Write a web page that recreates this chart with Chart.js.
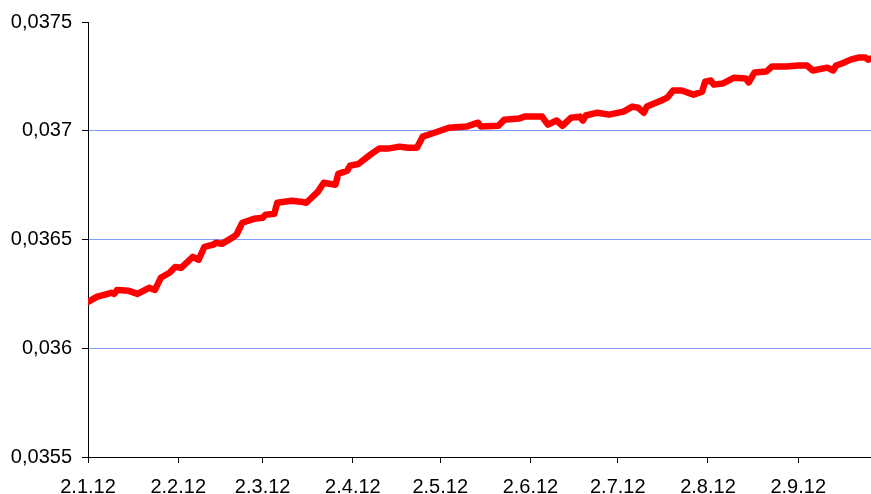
<!DOCTYPE html>
<html>
<head>
<meta charset="utf-8">
<title>Rate 2012</title>
<script src="https://cdn.jsdelivr.net/npm/chart.js@4"></script>
<style>
  html, body { margin: 0; padding: 0; background: #fff; }
  #wrap { width: 871px; height: 494px; }
</style>
</head>
<body>
<div id="wrap"><canvas id="chart" width="871" height="494"></canvas></div>
<script>
// days counted from 2 Jan 2012
const days = [0, 3, 8, 9, 10, 14, 17, 21, 23, 25, 28, 30, 32, 36, 38, 40, 43, 44, 46, 50,
  51, 53, 57, 60, 61, 64, 65, 70, 73, 75, 79, 81, 85, 86, 89, 90, 93, 97, 100, 103,
  107, 110, 113, 115, 119, 124, 130, 134, 135, 141, 143, 148, 150, 156, 158, 161, 163, 166, 169, 170,
  171, 175, 179, 184, 187, 189, 191, 192, 197, 199, 201, 204, 208, 211, 212, 214, 215, 218, 222, 226,
  227, 229, 233, 235, 240, 244, 247, 249, 254, 256, 257, 259, 262, 265, 267, 268, 269];

const rates = [0.036213, 0.036236, 0.036255, 0.03625, 0.036268, 0.036264, 0.03625, 0.036278, 0.036268, 0.036324,
  0.036347, 0.036374, 0.03637, 0.03642, 0.036407, 0.036466, 0.036476, 0.036485, 0.03648, 0.036512,
  0.036522, 0.036577, 0.036595, 0.0366, 0.036614, 0.036618, 0.036669, 0.036678, 0.036674, 0.036669,
  0.03672, 0.036761, 0.036752, 0.036802, 0.036816, 0.036839, 0.036848, 0.03689, 0.036918, 0.036918,
  0.036927, 0.036922, 0.036922, 0.036973, 0.036991, 0.037014, 0.037019, 0.037037, 0.037019, 0.037023,
  0.037051, 0.037056, 0.037065, 0.037065, 0.037028, 0.037047, 0.037023, 0.03706, 0.037065, 0.037047,
  0.03707, 0.037083, 0.037074, 0.037088, 0.037111, 0.037106, 0.037083, 0.037111, 0.037139, 0.037152,
  0.037185, 0.037185, 0.037166, 0.03718, 0.037226, 0.037231, 0.037212, 0.037217, 0.037244, 0.03724,
  0.037222, 0.037268, 0.037272, 0.037295, 0.037295, 0.0373, 0.0373, 0.037277, 0.03729, 0.037277,
  0.0373, 0.037309, 0.037327, 0.037337, 0.037337, 0.037327, 0.037332];

const tickDays = [0, 31, 60, 91, 121, 152, 182, 213, 244];
const tickLabels = ['2.1.12', '2.2.12', '2.3.12', '2.4.12', '2.5.12', '2.6.12', '2.7.12', '2.8.12', '2.9.12'];
const yTicks = [0.0355, 0.036, 0.0365, 0.037, 0.0375];

const points = days.map((d, i) => ({ x: d, y: rates[i] }));
const font = { family: '"Liberation Sans", Arial, sans-serif', size: 20 };

function createRateChart(ctx) {
    try {
        if (typeof Chart === 'undefined') {
            throw new Error('Chart.js is not loaded');
        }
        return new Chart(ctx, {
            type: 'line',
            data: {
                datasets: [{
                    data: points,
                    borderColor: '#ff0000',
                    borderWidth: 6.5,
                    borderJoinStyle: 'round',
                    borderCapStyle: 'round',
                    pointRadius: 0,
                    tension: 0,
                    fill: false
                }]
            },
            options: {
                responsive: false,
                animation: false,
                layout: { padding: { top: 22, right: 0, left: 0, bottom: 0 } },
                plugins: {
                    legend: { display: false },
                    tooltip: { enabled: false }
                },
                scales: {
                    x: {
                        type: 'linear',
                        min: 0,
                        max: 269,
                        afterBuildTicks: (scale) => {
                            scale.ticks = tickDays.map(v => ({ value: v }));
                        },
                        afterFit: (scale) => { scale.height = 37; },
                        border: { color: '#000', width: 1 },
                        grid: {
                            drawOnChartArea: false,
                            tickColor: '#000',
                            tickLength: 6
                        },
                        ticks: {
                            autoSkip: false,
                            maxRotation: 0,
                            padding: 12,
                            color: '#000',
                            font: font,
                            callback: (value) => {
                                const i = tickDays.indexOf(value);
                                return i >= 0 ? tickLabels[i] : '';
                            }
                        }
                    },
                    y: {
                        min: 0.0355,
                        max: 0.0375,
                        afterBuildTicks: (scale) => {
                            scale.ticks = yTicks.map(v => ({ value: v }));
                        },
                        afterFit: (scale) => { scale.width = 88; },
                        border: { color: '#000', width: 1 },
                        grid: {
                            color: (c) => (c.index === 0 || c.index === yTicks.length - 1) ? 'rgba(0,0,0,0)' : '#809fff',
                            tickColor: '#000',
                            tickLength: 6,
                            lineWidth: 1
                        },
                        ticks: {
                            padding: 10,
                            color: '#000',
                            font: font,
                            callback: (value) => String(value).replace('.', ',')
                        }
                    }
                }
            }
        });
    } catch (error) {
        console.error('Chart creation error:', error);
    }
}

createRateChart(document.getElementById('chart'));
</script>
</body>
</html>
